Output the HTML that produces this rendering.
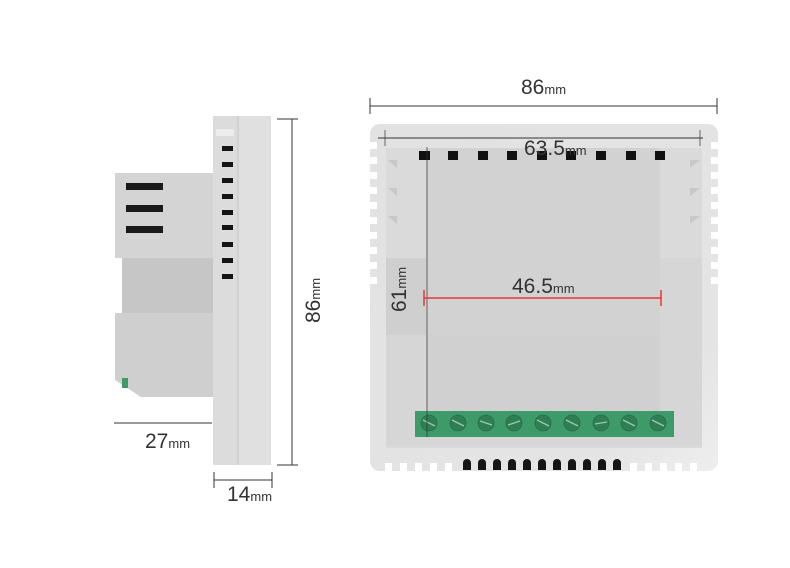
<!DOCTYPE html>
<html><head><meta charset="utf-8"><style>
html,body{margin:0;padding:0;background:#fff;width:790px;height:568px;overflow:hidden}
svg{display:block}
text{font-family:"Liberation Sans",sans-serif;fill:#333}
</style></head><body>
<svg width="790" height="568" viewBox="0 0 790 568" xmlns="http://www.w3.org/2000/svg">
<defs>
<linearGradient id="gR" x1="0" y1="0" x2="1" y2="1"><stop offset="0" stop-color="#e2e2e2"/><stop offset="0.8" stop-color="#e4e4e4"/><stop offset="1" stop-color="#eeeeee"/></linearGradient>
</defs>
<!-- LEFT DEVICE -->
<rect x="115" y="173" width="100" height="85" fill="#d4d4d4"/>
<rect x="122" y="258" width="93" height="56" fill="#c6c6c6"/>
<polygon points="115,313 215,313 215,397 141,397 115,380" fill="#cfcfcf"/>
<rect x="122" y="378" width="6" height="10" fill="#3e9a66"/>
<rect x="126" y="183" width="37" height="7" fill="#1a1a1a"/>
<rect x="126" y="205" width="37" height="7" fill="#1a1a1a"/>
<rect x="126" y="226" width="37" height="7" fill="#1a1a1a"/>
<rect x="213" y="116" width="25" height="349" fill="#dcdcdc"/>
<rect x="238" y="116" width="33" height="349" fill="#e0e0e0"/>
<line x1="238" y1="116" x2="238" y2="465" stroke="#c4c4c4"/>
<rect x="216" y="129" width="18" height="7" fill="#ececec"/>
<g fill="#151515">
<rect x="222" y="146" width="11" height="5"/><rect x="222" y="162" width="11" height="5"/><rect x="222" y="178" width="11" height="5"/><rect x="222" y="194" width="11" height="5"/><rect x="222" y="210" width="11" height="5"/><rect x="222" y="225" width="11" height="5"/><rect x="222" y="242" width="11" height="5"/><rect x="222" y="258" width="11" height="5"/><rect x="222" y="274" width="11" height="5"/>
</g>
<g stroke="#333" stroke-width="1" fill="none">
<line x1="114" y1="423" x2="212" y2="423"/>
<line x1="292" y1="119" x2="292" y2="465"/><line x1="277" y1="119" x2="298" y2="119"/><line x1="277" y1="465" x2="298" y2="465"/>
<line x1="214" y1="480" x2="272" y2="480"/><line x1="214" y1="472" x2="214" y2="488"/><line x1="272" y1="472" x2="272" y2="488"/>
</g>
<text x="145" y="448" font-size="21">27<tspan font-size="13">mm</tspan></text>
<text x="227" y="501" font-size="21">14<tspan font-size="13">mm</tspan></text>
<text transform="translate(320,323) rotate(-90)" font-size="21">86<tspan font-size="13">mm</tspan></text>
<!-- RIGHT DEVICE -->
<rect x="370" y="124" width="348" height="347" rx="10" fill="url(#gR)"/>
<g fill="#fff">
<rect x="370" y="142" width="7" height="7"/><rect x="370" y="157" width="7" height="7"/><rect x="370" y="172" width="7" height="7"/><rect x="370" y="187" width="7" height="7"/><rect x="370" y="202" width="7" height="7"/><rect x="370" y="217" width="7" height="7"/><rect x="370" y="232" width="7" height="7"/><rect x="370" y="247" width="7" height="7"/><rect x="370" y="262" width="7" height="7"/><rect x="370" y="277" width="7" height="7"/>
<rect x="711" y="142" width="7" height="7"/><rect x="711" y="157" width="7" height="7"/><rect x="711" y="172" width="7" height="7"/><rect x="711" y="187" width="7" height="7"/><rect x="711" y="202" width="7" height="7"/><rect x="711" y="217" width="7" height="7"/><rect x="711" y="232" width="7" height="7"/><rect x="711" y="247" width="7" height="7"/><rect x="711" y="262" width="7" height="7"/><rect x="711" y="277" width="7" height="7"/>
<rect x="385" y="463" width="7" height="8"/><rect x="400" y="463" width="7" height="8"/><rect x="415" y="463" width="7" height="8"/><rect x="430" y="463" width="7" height="8"/><rect x="445" y="463" width="7" height="8"/>
<rect x="630" y="463" width="7" height="8"/><rect x="645" y="463" width="7" height="8"/><rect x="660" y="463" width="7" height="8"/><rect x="675" y="463" width="7" height="8"/><rect x="690" y="463" width="7" height="8"/>
</g>
<rect x="386" y="148" width="316" height="300" fill="#dadada"/>
<rect x="386" y="258" width="40" height="80" fill="#cfcfcf"/>
<rect x="660" y="258" width="42" height="80" fill="#d6d6d6"/>
<rect x="426" y="148" width="234" height="190" fill="#d2d2d2"/>
<rect x="386" y="335" width="316" height="110" fill="#d6d6d6"/>
<rect x="426" y="335" width="234" height="80" fill="#d0d0d0"/>
<g fill="#111">
<rect x="419" y="151" width="11" height="9"/><rect x="448" y="151" width="10" height="9"/><rect x="478" y="151" width="10" height="9"/><rect x="507" y="151" width="10" height="9"/><rect x="537" y="151" width="10" height="9"/><rect x="566" y="151" width="10" height="9"/><rect x="596" y="151" width="10" height="9"/><rect x="626" y="151" width="10" height="9"/><rect x="655" y="151" width="10" height="9"/>
</g>
<g fill="#c8c8c8">
<polygon points="388,160 397,160 397,168"/><polygon points="388,188 397,188 397,196"/><polygon points="388,216 397,216 397,224"/>
<polygon points="700,160 690,160 690,168"/><polygon points="700,188 690,188 690,196"/><polygon points="700,216 690,216 690,224"/>
</g>
<g fill="#151515">
<path d="M463,470 v-7 a4,4 0 0 1 8,0 v7z"/><path d="M478,470 v-7 a4,4 0 0 1 8,0 v7z"/><path d="M493,470 v-7 a4,4 0 0 1 8,0 v7z"/><path d="M508,470 v-7 a4,4 0 0 1 8,0 v7z"/><path d="M523,470 v-7 a4,4 0 0 1 8,0 v7z"/><path d="M538,470 v-7 a4,4 0 0 1 8,0 v7z"/><path d="M553,470 v-7 a4,4 0 0 1 8,0 v7z"/><path d="M568,470 v-7 a4,4 0 0 1 8,0 v7z"/><path d="M583,470 v-7 a4,4 0 0 1 8,0 v7z"/><path d="M598,470 v-7 a4,4 0 0 1 8,0 v7z"/><path d="M613,470 v-7 a4,4 0 0 1 8,0 v7z"/>
</g>
<rect x="415" y="411" width="259" height="26" fill="#3d9a69"/>
<g fill="#2f7f55" stroke="#255f40" stroke-width="0.6">
<circle cx="429" cy="423" r="8"/><circle cx="458" cy="423" r="8"/><circle cx="486" cy="423" r="8"/><circle cx="514" cy="423" r="8"/><circle cx="543" cy="423" r="8"/><circle cx="572" cy="423" r="8"/><circle cx="601" cy="423" r="8"/><circle cx="629" cy="423" r="8"/><circle cx="658" cy="423" r="8"/>
</g>
<g stroke="#9cc9ae" stroke-width="1.3">
<line x1="423" y1="420" x2="435" y2="426"/><line x1="452" y1="420" x2="464" y2="426"/><line x1="480" y1="421" x2="492" y2="425"/><line x1="508" y1="425" x2="520" y2="421"/><line x1="537" y1="420" x2="549" y2="426"/><line x1="566" y1="420" x2="578" y2="426"/><line x1="595" y1="424" x2="607" y2="422"/><line x1="623" y1="420" x2="635" y2="426"/><line x1="652" y1="420" x2="664" y2="426"/>
</g>
<!-- dimension lines right -->
<g stroke="#333" stroke-width="1">
<line x1="370" y1="106" x2="717" y2="106"/><line x1="370" y1="98" x2="370" y2="114"/><line x1="717" y1="98" x2="717" y2="114"/>
<line x1="378" y1="138" x2="703" y2="138"/><line x1="385" y1="130" x2="385" y2="146" stroke-width="0.7"/><line x1="700" y1="130" x2="700" y2="146" stroke-width="0.7"/>
<line x1="427" y1="147" x2="427" y2="437" stroke-width="0.7"/>
</g>
<g stroke="#e53935" stroke-width="1.5">
<line x1="424" y1="298" x2="661" y2="298"/><line x1="424" y1="290" x2="424" y2="306"/><line x1="661" y1="290" x2="661" y2="306"/>
</g>
<text x="521" y="94" font-size="21">86<tspan font-size="13">mm</tspan></text>
<text x="524" y="155" font-size="21">63.5<tspan font-size="13">mm</tspan></text>
<text x="512" y="293" font-size="21">46.5<tspan font-size="13">mm</tspan></text>
<text transform="translate(406,312) rotate(-90)" font-size="21">61<tspan font-size="13">mm</tspan></text>
</svg>
</body></html>
